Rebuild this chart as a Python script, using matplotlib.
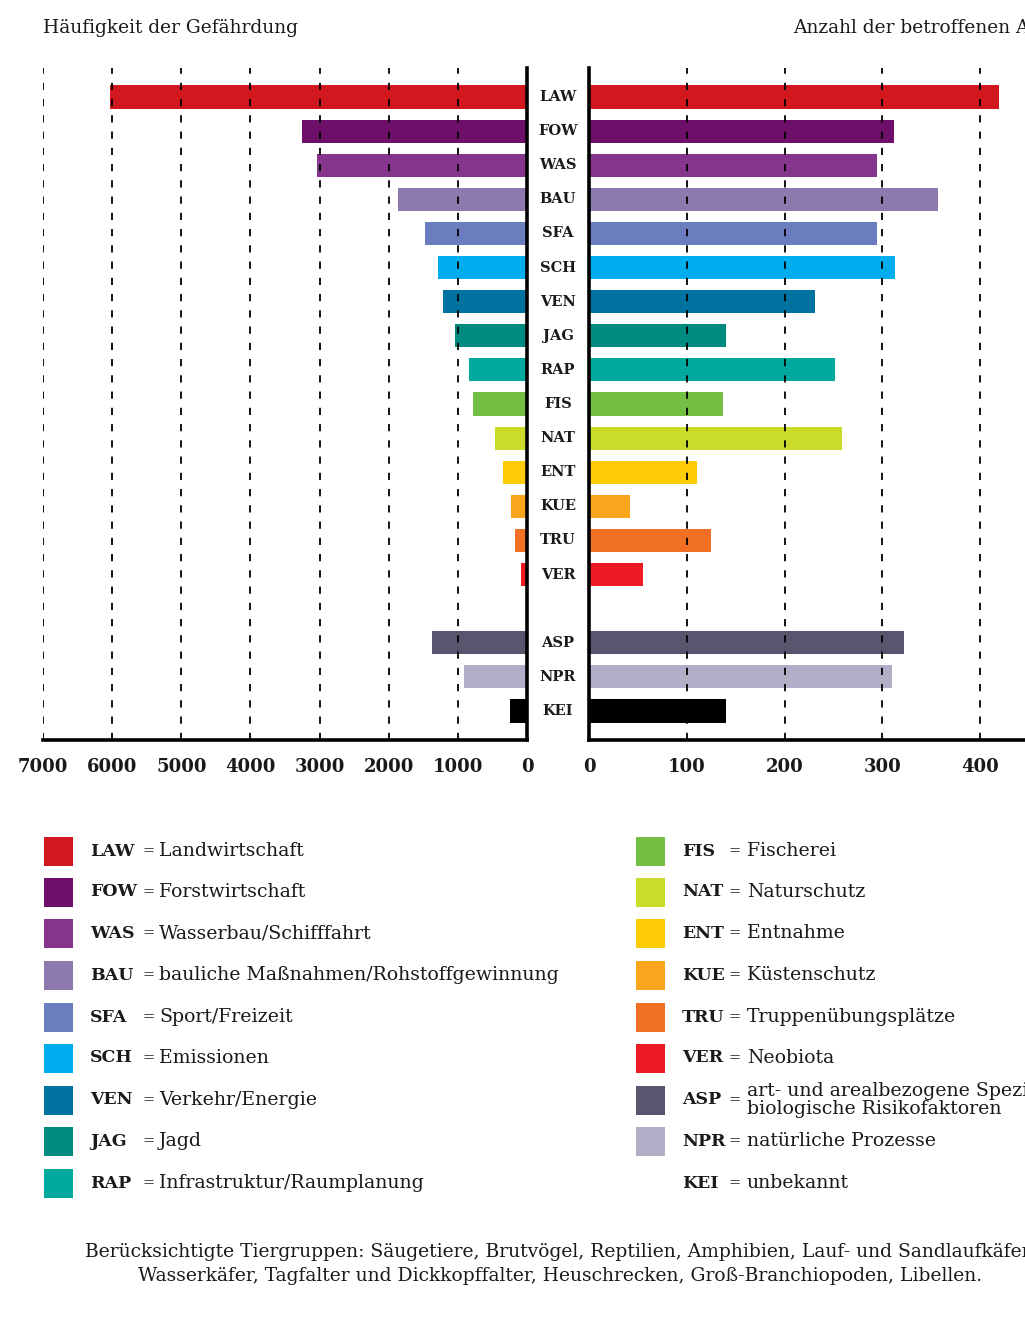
import matplotlib
matplotlib.use("Agg")
import matplotlib.pyplot as plt
from matplotlib.patches import Rectangle
from matplotlib.transforms import blended_transform_factory

# ---------------- data ----------------
codes = ["LAW", "FOW", "WAS", "BAU", "SFA", "SCH", "VEN", "JAG", "RAP",
         "FIS", "NAT", "ENT", "KUE", "TRU", "VER", "ASP", "NPR", "KEI"]
haeufigkeit = [6030, 3260, 3040, 1870, 1475, 1290, 1215, 1040, 840,
               780, 465, 345, 230, 175, 85, 1375, 910, 245]
anzahl_arten = [419, 312, 295, 357, 295, 313, 231, 140, 252,
                137, 259, 110, 42, 125, 55, 322, 310, 140]
colors = ["#D2181F", "#6E0F6A", "#85368C", "#8D79AE", "#6A7DBF", "#00AEEF",
          "#0072A0", "#008B80", "#00A99D", "#72BF44", "#CADB2A", "#FFCB05",
          "#F9A61D", "#F27024", "#ED1C24", "#59556F", "#B1AEC8", "#000000"]
descriptions = ["Landwirtschaft", "Forstwirtschaft", "Wasserbau/Schifffahrt",
                "bauliche Maßnahmen/Rohstoffgewinnung", "Sport/Freizeit",
                "Emissionen", "Verkehr/Energie", "Jagd",
                "Infrastruktur/Raumplanung", "Fischerei", "Naturschutz",
                "Entnahme", "Küstenschutz", "Truppenübungsplätze", "Neobiota",
                "art- und arealbezogene Spezifika,\nbiologische Risikofaktoren",
                "natürliche Prozesse", "unbekannt"]
positions = list(range(15)) + [16, 17, 18]
left_ticks = [7000, 6000, 5000, 4000, 3000, 2000, 1000, 0]
right_ticks = [0, 100, 200, 300, 400]
title_left = "Häufigkeit der Gefährdung"
title_right = "Anzahl der betroffenen Arten"
footnote = ("Berücksichtigte Tiergruppen: Säugetiere, Brutvögel, Reptilien, Amphibien, Lauf- und Sandlaufkäfer,\n"
            "Wasserkäfer, Tagfalter und Dickkopffalter, Heuschrecken, Groß-Branchiopoden, Libellen.")

# ---------------- style ----------------
W, H = 1025, 1337
FONT = "DejaVu Serif"
TXT = "#1a1a1a"
plt.rcParams["font.family"] = [FONT]

fig = plt.figure(figsize=(W / 100, H / 100), dpi=100)
fig.patch.set_facecolor("white")

def fx(px):
    return px / W

def fy(py):
    return 1 - py / H

ax_bottom = fy(740)
ax_top = fy(68)
axL = fig.add_axes([fx(43), ax_bottom, fx(527) - fx(43), ax_top - ax_bottom])
axR = fig.add_axes([fx(589), ax_bottom, 1 - fx(589), ax_top - ax_bottom])

bar_h = 0.68
ylim = (18.85, -0.85)

axL.barh(positions, haeufigkeit, height=bar_h, color=colors, zorder=1)
axL.set_xlim(7000, 0)
axL.set_ylim(*ylim)
axR.barh(positions, anzahl_arten, height=bar_h, color=colors, zorder=1)
axR.set_xlim(0, (W - 589) / 97.75 * 100)
axR.set_ylim(*ylim)

for ax, ticks in ((axL, left_ticks), (axR, right_ticks)):
    ax.set_xticks(ticks)
    ax.set_xticklabels([str(t) for t in ticks], fontsize=13,
                       fontweight="bold", color=TXT)
    ax.tick_params(axis="x", length=0, pad=13)
    ax.set_yticks([])
    ax.grid(axis="x", color="black", linestyle=(0, (4, 5)), linewidth=1.3)
    ax.set_axisbelow(False)
    ax.spines["top"].set_visible(False)
    ax.spines["bottom"].set_linewidth(2.6)
    ax.spines["bottom"].set_color("black")
    ax.set_facecolor("none")

axL.spines["left"].set_visible(False)
axL.spines["right"].set_linewidth(2.6)
axR.spines["right"].set_visible(False)
axR.spines["left"].set_linewidth(2.6)

# category labels between the two panels
tr = blended_transform_factory(fig.transFigure, axL.transData)
for c, p in zip(codes, positions):
    fig.text(fx(558), p, c, transform=tr, ha="center", va="center",
             fontsize=10.5, fontweight="bold", color=TXT)

# titles
fig.text(fx(43), fy(28), title_left, ha="left", va="center",
         fontsize=13.4, color=TXT)
fig.text(fx(793), fy(28), title_right, ha="left", va="center",
         fontsize=13.4, color=TXT)

# ---------------- legend ----------------
row_y = [851, 892, 933, 975, 1017, 1058, 1100, 1141, 1183]
cols = [(44, 90, 142, 159), (636, 682, 729, 747)]
sq = 29
for i, (c, col, d) in enumerate(zip(codes, colors, descriptions)):
    colidx = 0 if i < 9 else 1
    row = i if i < 9 else i - 9
    sx, cx, ex, dx = cols[colidx]
    y = row_y[row]
    if c != "KEI":
        fig.patches.append(Rectangle((fx(sx), fy(y + sq / 2)), sq / W, sq / H,
                                     transform=fig.transFigure,
                                     facecolor=col, edgecolor="none"))
    fig.text(fx(cx), fy(y), c, ha="left", va="center", fontsize=12.5,
             fontweight="bold", color=TXT)
    fig.text(fx(ex), fy(y), "=", ha="left", va="center", fontsize=10.5,
             color=TXT)
    fig.text(fx(dx), fy(y), d, ha="left", va="center", fontsize=13.6,
             color=TXT, linespacing=1.0)

# footnote
fig.text(fx(560), fy(1264), footnote, ha="center", va="center",
         fontsize=13.5, color=TXT, linespacing=1.4)

fig.savefig("out.png", dpi=100, facecolor="white")
